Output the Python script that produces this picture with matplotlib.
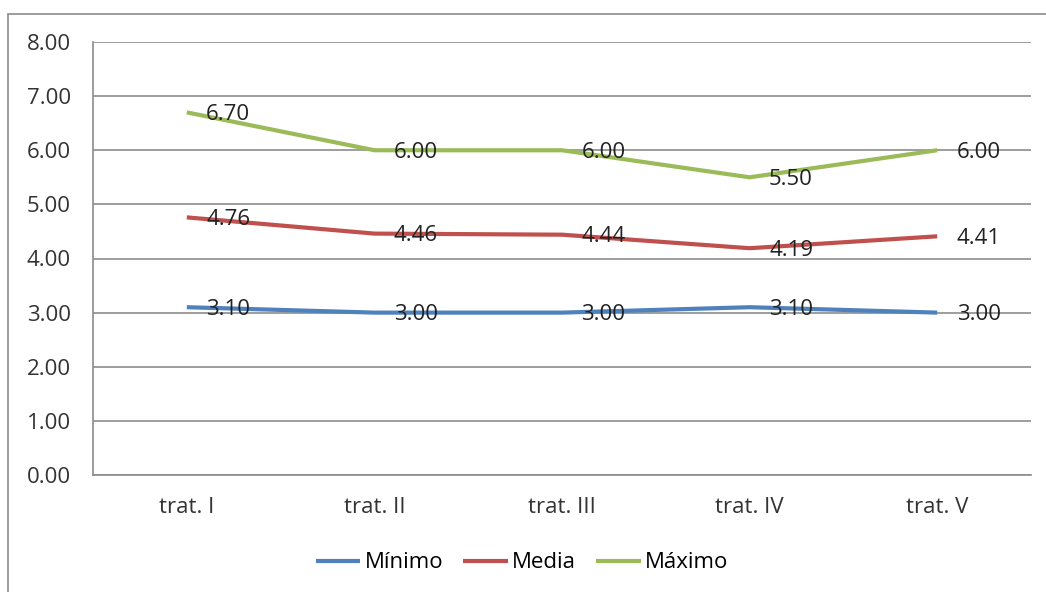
import matplotlib
matplotlib.use("Agg")
import matplotlib.pyplot as plt
from matplotlib.patches import Rectangle

categories = ["trat. I", "trat. II", "trat. III", "trat. IV", "trat. V"]
minimo = [3.10, 3.00, 3.00, 3.10, 3.00]
media = [4.76, 4.46, 4.44, 4.19, 4.41]
maximo = [6.70, 6.00, 6.00, 5.50, 6.00]
yticks = [0, 1, 2, 3, 4, 5, 6, 7, 8]

plt.rcParams['font.family'] = ['Open Sans', 'DejaVu Sans']

W, H = 1046, 592
fig = plt.figure(figsize=(W / 100, H / 100), dpi=100)
fig.patch.set_facecolor("white")

# outer chart border
fig.add_artist(Rectangle((8 / W, -0.1), 1.2, 1 - 14 / H + 0.1, transform=fig.transFigure,
                         fill=False, edgecolor="#8c8c8c", linewidth=1.2))

left, right, top, bottom = 93, 1031, 42, 475
ax = fig.add_axes([left / W, 1 - bottom / H, (right - left) / W, (bottom - top) / H])

x = list(range(len(categories)))
series = [("Mínimo", minimo, "#4F81BD"), ("Media", media, "#C0504D"), ("Máximo", maximo, "#9BBB59")]
for name, vals, col in series:
    ax.plot(x, vals, color=col, linewidth=3, label=name, solid_capstyle="butt")
    for xi, v in zip(x, vals):
        ax.annotate(f"{v:.2f}", (xi, v), xytext=(14, -1.5), textcoords="offset points",
                    ha="left", va="center", fontsize=16, color="#222222")

ax.set_xlim(-0.5, len(categories) - 0.5)
ax.set_ylim(0, 8)
ax.set_yticks(yticks)
ax.set_yticklabels([f"{t:.2f}" for t in yticks])
ax.set_xticks(x)
ax.set_xticklabels(categories)
ax.tick_params(axis="both", length=0, labelsize=16, colors="#333333")
ax.tick_params(axis="y", pad=16)
ax.tick_params(axis="x", pad=16)
ax.grid(axis="y", color="#8c8c8c", linewidth=1.2)
ax.set_axisbelow(True)
for s in ["top", "right"]:
    ax.spines[s].set_visible(False)
ax.spines["left"].set_color("#8c8c8c")
ax.spines["bottom"].set_color("#8c8c8c")
ax.spines["left"].set_linewidth(1.2)
ax.spines["bottom"].set_linewidth(1.2)

fig.legend(loc="center", bbox_to_anchor=(522 / W, 1 - 563 / H), ncol=3, frameon=False,
           fontsize=16, handlelength=2.0, handletextpad=0.2, columnspacing=0.9)

fig.savefig("out.png", dpi=100)
